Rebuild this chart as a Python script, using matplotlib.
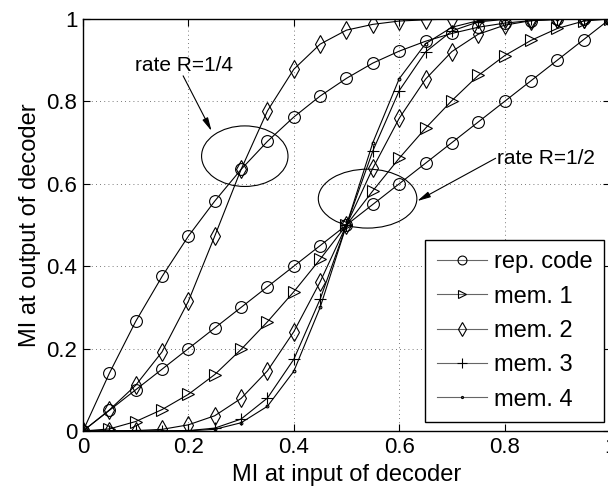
import matplotlib
matplotlib.use("Agg")
import matplotlib.pyplot as plt
from matplotlib.patches import Ellipse

plt.rcParams['font.family'] = ['Liberation Sans', 'DejaVu Sans']

# EXIT curves, markers every 0.05
mi_in = [0.0, 0.05, 0.1, 0.15, 0.2, 0.25, 0.3, 0.35, 0.4, 0.45, 0.5,
         0.55, 0.6, 0.65, 0.7, 0.75, 0.8, 0.85, 0.9, 0.95, 1.0]

# rate 1/4
rep_r14 = [0, 0.14, 0.266, 0.375, 0.473, 0.558, 0.635, 0.703, 0.762, 0.813, 0.856,
           0.893, 0.922, 0.946, 0.965, 0.98, 0.99, 0.996, 0.999, 1.0, 1.0]
mem2_r14 = [0, 0.051, 0.111, 0.192, 0.315, 0.473, 0.635, 0.777, 0.878, 0.939, 0.973,
            0.987, 0.995, 0.998, 1.0, 1.0, 1.0, 1.0, 1.0, 1.0, 1.0]

# rate 1/2
rep_r12 = [0.0, 0.05, 0.1, 0.15, 0.2, 0.25, 0.3, 0.35, 0.4, 0.45, 0.5,
           0.55, 0.6, 0.65, 0.7, 0.75, 0.8, 0.85, 0.9, 0.95, 1.0]
mem1_r12 = [0, 0.005, 0.023, 0.052, 0.089, 0.137, 0.198, 0.265, 0.338, 0.417, 0.5,
            0.583, 0.662, 0.735, 0.802, 0.863, 0.911, 0.948, 0.977, 0.995, 1.0]
mem2_r12 = [0, 0.0003, 0.001, 0.004, 0.015, 0.037, 0.079, 0.146, 0.241, 0.362, 0.5,
            0.638, 0.759, 0.854, 0.921, 0.963, 0.985, 0.996, 0.999, 1.0, 1.0]
mem3_r12 = [0, 0, 0, 0.0002, 0.001, 0.007, 0.029, 0.08, 0.174, 0.32, 0.5,
            0.68, 0.826, 0.92, 0.971, 0.993, 0.999, 1.0, 1.0, 1.0, 1.0]
mem4_r12 = [0, 0, 0, 0, 0.0005, 0.004, 0.02, 0.06, 0.145, 0.3, 0.5,
            0.7, 0.855, 0.94, 0.98, 0.996, 1.0, 1.0, 1.0, 1.0, 1.0]

labels = ["rep. code", "mem. 1", "mem. 2", "mem. 3", "mem. 4"]

fig = plt.figure(figsize=(6.08, 4.87), dpi=100)
ax = fig.add_axes([0.1365, 0.115, 0.8668, 0.846])

lw = 0.8
mk = dict(color='k', lw=lw, mfc='none', mec='k', mew=0.8)

ax.plot(mi_in, rep_r14, marker='o', ms=8.5, **mk)
ax.plot(mi_in, mem2_r14, marker='d', ms=9, **mk)

h_rep, = ax.plot(mi_in, rep_r12, marker='o', ms=8.5, **mk)
h_m1, = ax.plot(mi_in, mem1_r12, marker='>', ms=8.5, **mk)
h_m2, = ax.plot(mi_in, mem2_r12, marker='d', ms=9, **mk)
h_m3, = ax.plot(mi_in, mem3_r12, marker='+', ms=9, **mk)
h_m4, = ax.plot(mi_in, mem4_r12, marker='.', ms=4, **mk)

ax.set_xlim(0, 1)
ax.set_ylim(0, 1)
ax.set_xticks([0, 0.2, 0.4, 0.6, 0.8, 1])
ax.set_yticks([0, 0.2, 0.4, 0.6, 0.8, 1])
ax.set_xticklabels(["0", "0.2", "0.4", "0.6", "0.8", "1"])
ax.set_yticklabels(["0", "0.2", "0.4", "0.6", "0.8", "1"])
ax.tick_params(direction='in', top=True, right=True, labelsize=16, length=5, pad=4)
ax.grid(True, linestyle=(0, (1, 4)), color='0.3', linewidth=0.6)
for s in ax.spines.values():
    s.set_linewidth(1.0)

ax.set_xlabel("MI at input of decoder", fontsize=17, labelpad=5)
ax.set_ylabel("MI at output of decoder", fontsize=17, labelpad=4)

# ellipses and annotations
ax.add_patch(Ellipse((0.307, 0.667), 0.164, 0.147, fill=False, ec='k', lw=0.8))
ax.add_patch(Ellipse((0.54, 0.564), 0.187, 0.143, fill=False, ec='k', lw=0.8))

arrow = dict(arrowstyle='-|>,head_length=0.8,head_width=0.18', color='k', lw=0.8,
             shrinkA=0, shrinkB=0)
ax.text(0.099, 0.8745, "rate R=1/4", fontsize=15, va='baseline', ha='left')
ax.annotate("", xy=(0.244, 0.728), xytext=(0.19, 0.862), arrowprops=arrow)
ax.text(0.785, 0.648, "rate R=1/2", fontsize=15, va='baseline', ha='left')
ax.annotate("", xy=(0.634, 0.558), xytext=(0.783, 0.662), arrowprops=arrow)

leg = ax.legend([h_rep, h_m1, h_m2, h_m3, h_m4], labels, loc='lower right',
                bbox_to_anchor=(0.989, 0.021), fontsize=17, frameon=True,
                fancybox=False, framealpha=1, edgecolor='k', markerscale=0.75,
                handlelength=2.1, handletextpad=0.3, labelspacing=0.52,
                borderpad=0.5, borderaxespad=0)
leg.get_frame().set_linewidth(1.0)
for ln in leg.get_lines():
    ln.set_color('0.4')
    ln.set_markeredgecolor('k')

fig.savefig("out.png", dpi=100)
